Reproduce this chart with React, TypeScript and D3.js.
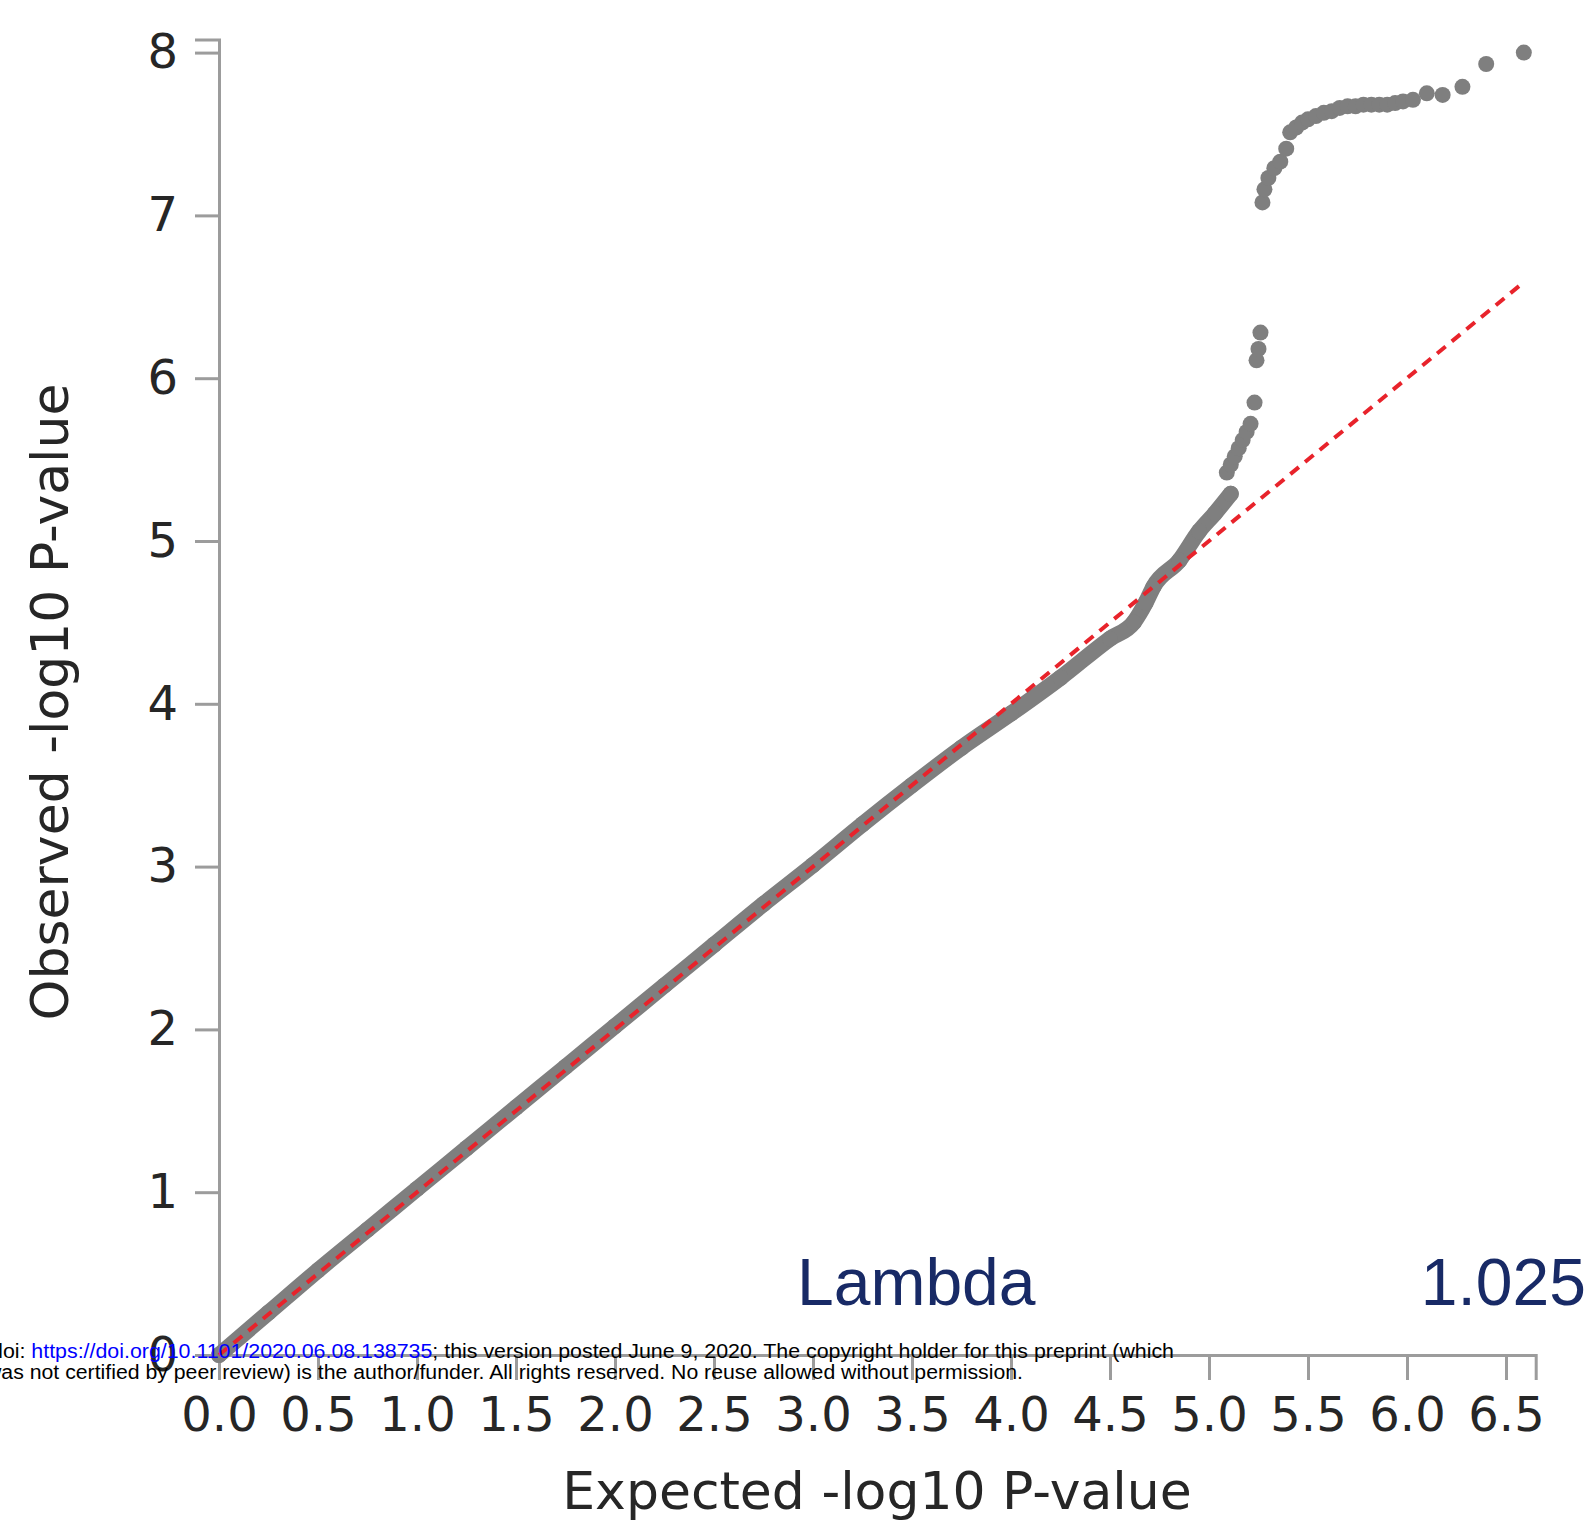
import React, { useEffect, useRef } from 'react';
import * as d3 from 'd3';

// Dense part of the QQ band (expected vs observed -log10 P)
const bandExpected = [0, 0.25, 0.5, 0.75, 1.0, 1.25, 1.5, 1.75, 2.0, 2.25, 2.5, 2.75, 3.0, 3.25, 3.5, 3.75, 4.0, 4.25, 4.5, 4.62, 4.68, 4.72, 4.85, 4.95, 5.03, 5.11];
const bandObserved = [0, 0.26, 0.52, 0.77, 1.02, 1.27, 1.52, 1.77, 2.02, 2.27, 2.52, 2.77, 3.01, 3.26, 3.5, 3.73, 3.94, 4.16, 4.4, 4.5, 4.62, 4.72, 4.88, 5.06, 5.17, 5.29];

// Sparse tail points
const tailExpected = [5.09, 5.11, 5.13, 5.15, 5.17, 5.19, 5.21, 5.23, 5.24, 5.25, 5.26, 5.27, 5.28, 5.3, 5.33, 5.36, 5.39, 5.41, 5.44, 5.47, 5.5, 5.54, 5.58, 5.62, 5.66, 5.7, 5.74, 5.78, 5.82, 5.86, 5.9, 5.94, 5.98, 6.03, 6.1, 6.18, 6.28, 6.4, 6.59];
const tailObserved = [5.42, 5.47, 5.52, 5.57, 5.62, 5.67, 5.72, 5.85, 6.11, 6.18, 6.28, 7.08, 7.16, 7.23, 7.29, 7.33, 7.41, 7.51, 7.54, 7.57, 7.59, 7.61, 7.63, 7.64, 7.66, 7.67, 7.67, 7.68, 7.68, 7.68, 7.68, 7.69, 7.7, 7.71, 7.75, 7.74, 7.79, 7.93, 8.0];

// Expected = observed reference line
const refLine = [0, 6.58];

const xTicks = [0, 0.5, 1, 1.5, 2, 2.5, 3, 3.5, 4, 4.5, 5, 5.5, 6, 6.5];
const yTicks = [0, 1, 2, 3, 4, 5, 6, 7, 8];

const lambdaLabel = 'Lambda';
const lambdaValue = '1.025';

const doiLine1Pre = 'doi: ';
const doiLink = 'https://doi.org/10.1101/2020.06.08.138735';
const doiLine1Post = '; this version posted June 9, 2020. The copyright holder for this preprint (which';
const doiLine2 = 'was not certified by peer review) is the author/funder. All rights reserved. No reuse allowed without permission.';

const App: React.FC = () => {
  const svgRef = useRef<SVGSVGElement>(null);

  useEffect(() => {
    if (!svgRef.current) return;

    const width = 1596;
    const height = 1522;
    const svg = d3.select(svgRef.current).attr('width', width).attr('height', height);
    svg.selectAll('*').remove();

    svg.append('rect').attr('width', width).attr('height', height).attr('fill', '#ffffff');

    const x = d3.scaleLinear().domain([0, 6.65]).range([219, 219 + 6.65 * 198]);
    const y = d3.scaleLinear().domain([0, 8.08]).range([1355, 1355 - 8.08 * 162.8]);

    const axisColor = '#9c9c9c';
    const textColor = '#262626';
    const font = '"DejaVu Sans", sans-serif';

    // y axis
    const gy = svg
      .append('g')
      .attr('transform', `translate(${x(0)},0)`)
      .call(
        d3
          .axisLeft(y)
          .tickValues(yTicks)
          .tickSize(24)
          .tickSizeOuter(24)
          .tickPadding(17)
          .tickFormat(d3.format('d')),
      );

    // x axis
    const gx = svg
      .append('g')
      .attr('transform', `translate(0,${y(0)})`)
      .call(
        d3
          .axisBottom(x)
          .tickValues(xTicks)
          .tickSize(25)
          .tickSizeOuter(25)
          .tickPadding(17)
          .tickFormat(d3.format('.1f')),
      );

    [gx, gy].forEach((g) => {
      g.select('.domain').attr('stroke', axisColor).attr('stroke-width', 3);
      g.selectAll('.tick line').attr('stroke', axisColor).attr('stroke-width', 3);
      g.selectAll('.tick text')
        .attr('fill', textColor)
        .attr('font-family', font)
        .attr('font-size', 48);
    });

    // axis titles
    svg
      .append('text')
      .attr('x', 877)
      .attr('y', 1509)
      .attr('text-anchor', 'middle')
      .attr('font-family', font)
      .attr('font-size', 52)
      .attr('fill', textColor)
      .text('Expected -log10 P-value');

    svg
      .append('text')
      .attr('transform', `translate(68,${702}) rotate(-90)`)
      .attr('text-anchor', 'middle')
      .attr('font-family', font)
      .attr('font-size', 52)
      .attr('fill', textColor)
      .text('Observed -log10 P-value');

    // QQ points
    const pointColor = '#7f7f7f';
    const r = 8;
    const band = bandExpected.map((e, i) => [e, bandObserved[i]] as [number, number]);
    const tail = tailExpected.map((e, i) => [e, tailObserved[i]] as [number, number]);

    svg
      .append('path')
      .datum(band)
      .attr(
        'd',
        d3
          .line<[number, number]>()
          .x((d) => x(d[0]))
          .y((d) => y(d[1]))
          .curve(d3.curveMonotoneX),
      )
      .attr('fill', 'none')
      .attr('stroke', pointColor)
      .attr('stroke-width', r * 2)
      .attr('stroke-linecap', 'round')
      .attr('stroke-linejoin', 'round');

    svg
      .append('g')
      .selectAll('circle')
      .data([...band, ...tail])
      .enter()
      .append('circle')
      .attr('cx', (d) => x(d[0]))
      .attr('cy', (d) => y(d[1]))
      .attr('r', r)
      .attr('fill', pointColor);

    // reference line
    svg
      .append('line')
      .attr('x1', x(refLine[0]))
      .attr('y1', y(refLine[0]))
      .attr('x2', x(refLine[1]))
      .attr('y2', y(refLine[1]))
      .attr('stroke', '#e8232b')
      .attr('stroke-width', 4)
      .attr('stroke-dasharray', '11,8');

    // lambda annotation
    svg
      .append('text')
      .attr('x', 797)
      .attr('y', 1305)
      .attr('font-family', '"Liberation Sans", Arial, sans-serif')
      .attr('font-size', 66)
      .attr('fill', '#182a66')
      .text(lambdaLabel);

    svg
      .append('text')
      .attr('x', 1586)
      .attr('y', 1305)
      .attr('text-anchor', 'end')
      .attr('font-family', '"Liberation Sans", Arial, sans-serif')
      .attr('font-size', 66)
      .attr('fill', '#182a66')
      .text(lambdaValue);

    // preprint overlay
    const l1 = svg
      .append('text')
      .attr('x', -9)
      .attr('y', 1358)
      .attr('font-family', '"Liberation Sans", Arial, sans-serif')
      .attr('font-size', 20)
      .attr('fill', '#000000')
      .attr('textLength', 1183)
      .attr('lengthAdjust', 'spacingAndGlyphs');
    l1.append('tspan').text(doiLine1Pre);
    l1.append('tspan').attr('fill', '#0000ff').text(doiLink);
    l1.append('tspan').text(doiLine1Post);

    svg
      .append('text')
      .attr('x', -14)
      .attr('y', 1379)
      .attr('font-family', '"Liberation Sans", Arial, sans-serif')
      .attr('font-size', 20)
      .attr('fill', '#000000')
      .attr('textLength', 1037)
      .attr('lengthAdjust', 'spacingAndGlyphs')
      .text(doiLine2);
  }, []);

  return (
    <div style={{ position: 'absolute', left: 0, top: 0 }}>
      <svg ref={svgRef} style={{ display: 'block' }} />
    </div>
  );
};

export default App;
